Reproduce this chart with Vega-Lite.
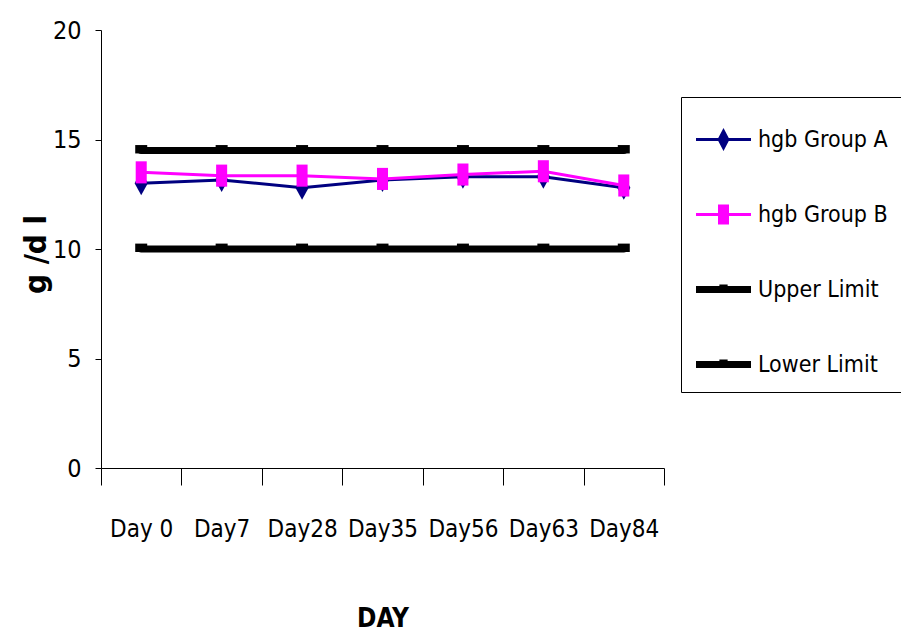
{
  "$schema": "https://vega.github.io/schema/vega-lite/v6.json",
  "width": 563,
  "height": 438,
  "autosize": "none",
  "padding": {"left": 101, "top": 30, "right": 237, "bottom": 170},
  "background": "white",
  "config": {
    "view": {"stroke": null},
    "font": "Liberation Sans Narrow, DejaVu Sans Condensed, Liberation Sans, sans-serif",
    "axis": {
      "grid": false,
      "domainColor": "black",
      "domainWidth": 1,
      "tickColor": "black",
      "tickWidth": 1,
      "labelColor": "black",
      "titleColor": "black",
      "labelFont": "Liberation Sans Narrow, DejaVu Sans Condensed, Liberation Sans, sans-serif",
      "titleFont": "Liberation Sans Narrow, DejaVu Sans Condensed, Liberation Sans, sans-serif"
    },
    "legend": {
      "labelFont": "Liberation Sans Narrow, DejaVu Sans Condensed, Liberation Sans, sans-serif",
      "labelColor": "black"
    }
  },
  "data": {
    "values": [
      {"day": "Day 0", "series": "hgb Group A", "value": 13.0},
      {"day": "Day7", "series": "hgb Group A", "value": 13.15},
      {"day": "Day28", "series": "hgb Group A", "value": 12.8},
      {"day": "Day35", "series": "hgb Group A", "value": 13.15},
      {"day": "Day56", "series": "hgb Group A", "value": 13.3},
      {"day": "Day63", "series": "hgb Group A", "value": 13.3},
      {"day": "Day84", "series": "hgb Group A", "value": 12.8},
      {"day": "Day 0", "series": "hgb Group B", "value": 13.5},
      {"day": "Day7", "series": "hgb Group B", "value": 13.35},
      {"day": "Day28", "series": "hgb Group B", "value": 13.35},
      {"day": "Day35", "series": "hgb Group B", "value": 13.2},
      {"day": "Day56", "series": "hgb Group B", "value": 13.4},
      {"day": "Day63", "series": "hgb Group B", "value": 13.55},
      {"day": "Day84", "series": "hgb Group B", "value": 12.9},
      {"day": "Day 0", "series": "Upper Limit", "value": 14.5},
      {"day": "Day7", "series": "Upper Limit", "value": 14.5},
      {"day": "Day28", "series": "Upper Limit", "value": 14.5},
      {"day": "Day35", "series": "Upper Limit", "value": 14.5},
      {"day": "Day56", "series": "Upper Limit", "value": 14.5},
      {"day": "Day63", "series": "Upper Limit", "value": 14.5},
      {"day": "Day84", "series": "Upper Limit", "value": 14.5},
      {"day": "Day 0", "series": "Lower Limit", "value": 10.0},
      {"day": "Day7", "series": "Lower Limit", "value": 10.0},
      {"day": "Day28", "series": "Lower Limit", "value": 10.0},
      {"day": "Day35", "series": "Lower Limit", "value": 10.0},
      {"day": "Day56", "series": "Lower Limit", "value": 10.0},
      {"day": "Day63", "series": "Lower Limit", "value": 10.0},
      {"day": "Day84", "series": "Lower Limit", "value": 10.0}
    ]
  },
  "encoding": {
    "x": {
      "field": "day",
      "type": "nominal",
      "sort": ["Day 0", "Day7", "Day28", "Day35", "Day56", "Day63", "Day84"],
      "scale": {"type": "band", "paddingInner": 0, "paddingOuter": 0},
      "axis": {
        "title": "DAY",
        "labelAngle": 0,
        "tickBand": "extent",
        "tickSize": 17,
        "labelFontSize": 24,
        "labelPadding": 32,
        "titleFontSize": 26,
        "titleFontWeight": "bold",
        "titleBaseline": "alphabetic",
        "titleY": 158
      }
    },
    "y": {
      "field": "value",
      "type": "quantitative",
      "scale": {"domain": [0, 20], "nice": false},
      "axis": {
        "title": "g /d l",
        "values": [0, 5, 10, 15, 20],
        "tickSize": 6,
        "labelFontSize": 25,
        "labelPadding": 14,
        "titleFontSize": 31,
        "titleFontWeight": "bold",
        "titleAngle": -90,
        "titleBaseline": "alphabetic",
        "titleX": -56,
        "titleY": 224
      }
    },
    "color": {
      "field": "series",
      "type": "nominal",
      "scale": {
        "domain": ["hgb Group A", "hgb Group B", "Upper Limit", "Lower Limit"],
        "range": ["#000080", "#FF00FF", "#000000", "#000000"]
      },
      "legend": {
        "title": null,
        "orient": "none",
        "legendX": 580,
        "legendY": 67,
        "padding": 15,
        "strokeColor": "black",
        "fillColor": "white",
        "symbolType": "M-1,-0.13H1V0.13H-1Z",
        "symbolSize": 3025,
        "symbolStrokeWidth": 0,
        "rowPadding": 35,
        "labelFontSize": 23,
        "labelOffset": 7,
        "labelLimit": 0,
        "encode": {
          "symbols": {
            "update": {
              "size": {"value": 3025},
              "strokeWidth": {"value": 0},
              "opacity": {"value": 1},
              "fill": {"signal": "datum.value === 'hgb Group A' ? '#000080' : datum.value === 'hgb Group B' ? '#FF00FF' : '#000000'"},
              "shape": {"signal": "datum.value === 'hgb Group A' ? 'M-1,-0.055H1V0.055H-1Z M0,-0.42L0.22,0L0,0.42L-0.22,0Z' : datum.value === 'hgb Group B' ? 'M-1,-0.055H1V0.055H-1Z M-0.2,-0.36H0.2V0.36H-0.2Z' : 'M-1,-0.13H1V0.13H-1Z M-0.15,-0.18H0.15V0H-0.15Z'"}
            }
          }
        }
      }
    }
  },
  "layer": [
    {
      "transform": [{"filter": "datum.series === 'Upper Limit' || datum.series === 'Lower Limit'"}],
      "mark": {"type": "line", "strokeWidth": 7, "strokeCap": "round"}
    },
    {
      "transform": [{"filter": "datum.series === 'hgb Group A'"}],
      "mark": {"type": "line", "strokeWidth": 3}
    },
    {
      "transform": [{"filter": "datum.series === 'hgb Group A'"}],
      "mark": {"type": "point", "filled": true, "opacity": 1, "size": 576,
               "shape": "M0,-1L0.55,0L0,1L-0.55,0Z", "strokeWidth": 0}
    },
    {
      "transform": [{"filter": "datum.series === 'hgb Group B'"}],
      "mark": {"type": "line", "strokeWidth": 3}
    },
    {
      "transform": [{"filter": "datum.series === 'hgb Group B'"}],
      "mark": {"type": "point", "filled": true, "opacity": 1, "size": 576,
               "shape": "M-0.46,-0.92H0.46V0.92H-0.46Z", "strokeWidth": 0}
    },
    {
      "transform": [{"filter": "datum.series === 'Upper Limit' || datum.series === 'Lower Limit'"}],
      "mark": {"type": "point", "filled": true, "opacity": 1, "size": 576,
               "shape": "M-0.5,-0.45H0.5V0.25H-0.5Z", "strokeWidth": 0}
    }
  ]
}
